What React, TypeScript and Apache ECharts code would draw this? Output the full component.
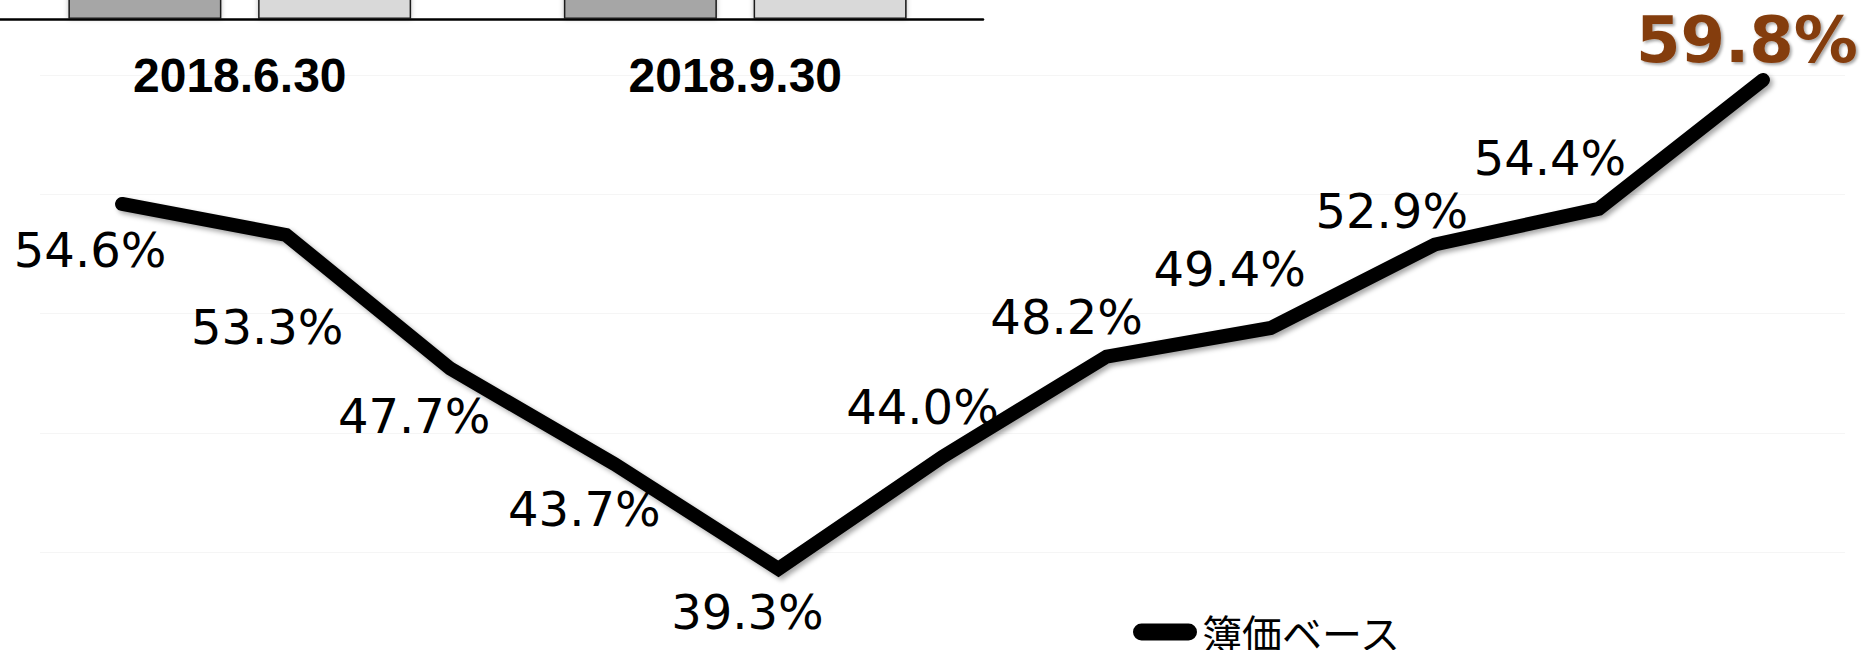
import React, { useEffect, useRef } from "react";
import * as echarts from "echarts";

// Line chart (簿価ベース), 11 periods (axis labels not shown in the picture)
const periods = ["P1", "P2", "P3", "P4", "P5", "P6", "P7", "P8", "P9", "P10", "P11"];
const bookValueRatio = [54.6, 53.3, 47.7, 43.7, 39.3, 44.0, 48.2, 49.4, 52.9, 54.4, 59.8];
const seriesName = "簿価ベース";

// Cropped bar chart at the top (bar tops are cut off by the picture edge)
const barDates = ["2018.6.30", "2018.9.30"];
const barDarkValues = [1, 1];
const barLightValues = [1, 1];

// label placement (pixel offsets from each point)
const labelOffsets: number[][] = [
  [-32, 46], [-19, 92], [-36, 47], [-30, 45], [-31, 43],
  [-20, -50], [-40, -40], [-41, -59], [-43, -34], [-49, -51], [-16, -40],
];

export default function App() {
  const ref = useRef<HTMLDivElement>(null);
  useEffect(() => {
    if (!ref.current) return;
    const chart = echarts.init(ref.current, null, { renderer: "svg" });
    const last = bookValueRatio.length - 1;
    chart.setOption({
      animation: false,
      backgroundColor: "#ffffff",
      legend: {
        data: [seriesName],
        left: 1133,
        top: 612,
        padding: 0,
        itemWidth: 64,
        itemHeight: 17,
        icon: "path://M8.5,0H55.5A8.5,8.5,0,0,1,55.5,17H8.5A8.5,8.5,0,0,1,8.5,0Z",
        textStyle: { fontSize: 40, color: "#000", fontFamily: "'Noto Sans CJK JP'" },
      },
      grid: [
        { left: 40, right: 16, top: 75.2, bottom: 97.8, outerBoundsMode: "none", containLabel: false },
        { left: -8, right: 878, top: -200, bottom: 631, outerBoundsMode: "none", containLabel: false },
      ],
      xAxis: [
        {
          type: "category",
          gridIndex: 0,
          data: periods,
          boundaryGap: true,
          axisLine: { show: false },
          axisTick: { show: false },
          axisLabel: { show: false },
        },
        {
          type: "category",
          gridIndex: 1,
          data: barDates,
          axisLine: { show: true, lineStyle: { color: "#000", width: 2.5 } },
          axisTick: { show: false },
          axisLabel: {
            show: true,
            margin: 32,
            fontSize: 48,
            fontWeight: "bold",
            color: "#000",
            fontFamily: "'Liberation Sans', Arial, sans-serif",
          },
        },
      ],
      yAxis: [
        {
          type: "value",
          gridIndex: 0,
          min: 40,
          max: 60,
          interval: 5,
          axisLine: { show: false },
          axisTick: { show: false },
          axisLabel: { show: false },
          splitLine: { show: true, lineStyle: { color: "#f5f5f5", width: 1 } },
        },
        {
          type: "value",
          gridIndex: 1,
          min: 0,
          max: 1,
          axisLine: { show: false },
          axisTick: { show: false },
          axisLabel: { show: false },
          splitLine: { show: false },
        },
      ],
      series: [
        {
          name: seriesName,
          type: "line",
          xAxisIndex: 0,
          yAxisIndex: 0,
          clip: false,
          symbol: "circle",
          symbolSize: 2,
          showSymbol: true,
          itemStyle: { color: "#000" },
          lineStyle: {
            color: "#000",
            width: 14,
            cap: "round",
            join: "miter",
            shadowColor: "rgba(0,0,0,0.35)",
            shadowBlur: 5,
            shadowOffsetX: 3,
            shadowOffsetY: 3,
          },
          label: {
            show: true,
            position: "inside",
            align: "center",
            verticalAlign: "middle",
            fontSize: 48,
            color: "#000",
            fontFamily: "'DejaVu Sans', Verdana, sans-serif",
            formatter: (p: any) => Number(p.value).toFixed(1) + "%",
          },
          data: bookValueRatio.map((v, i) => ({
            value: v,
            label:
              i === last
                ? {
                    offset: labelOffsets[i],
                    fontSize: 64,
                    fontWeight: "bold",
                    color: "#843C0C",
                    textShadowColor: "rgba(0,0,0,0.35)",
                    textShadowBlur: 3,
                    textShadowOffsetX: 2,
                    textShadowOffsetY: 2,
                  }
                : { offset: labelOffsets[i] },
          })),
        },
        {
          name: "bar-dark",
          type: "bar",
          xAxisIndex: 1,
          yAxisIndex: 1,
          barWidth: 153,
          barGap: "24%",
          data: barDarkValues,
          itemStyle: {
            color: "#a6a6a6",
            borderColor: "#1a1a1a",
            borderWidth: 1.5,
            shadowColor: "rgba(0,0,0,0.25)",
            shadowBlur: 5,
          },
        },
        {
          name: "bar-light",
          type: "bar",
          xAxisIndex: 1,
          yAxisIndex: 1,
          barWidth: 153,
          barGap: "24%",
          data: barLightValues,
          itemStyle: {
            color: "#d9d9d9",
            borderColor: "#1a1a1a",
            borderWidth: 1.5,
            shadowColor: "rgba(0,0,0,0.25)",
            shadowBlur: 5,
          },
        },
      ],
    });
    return () => chart.dispose();
  }, []);
  return <div ref={ref} style={{ width: 1861, height: 650, position: "absolute", left: 0, top: 0 }} />;
}
